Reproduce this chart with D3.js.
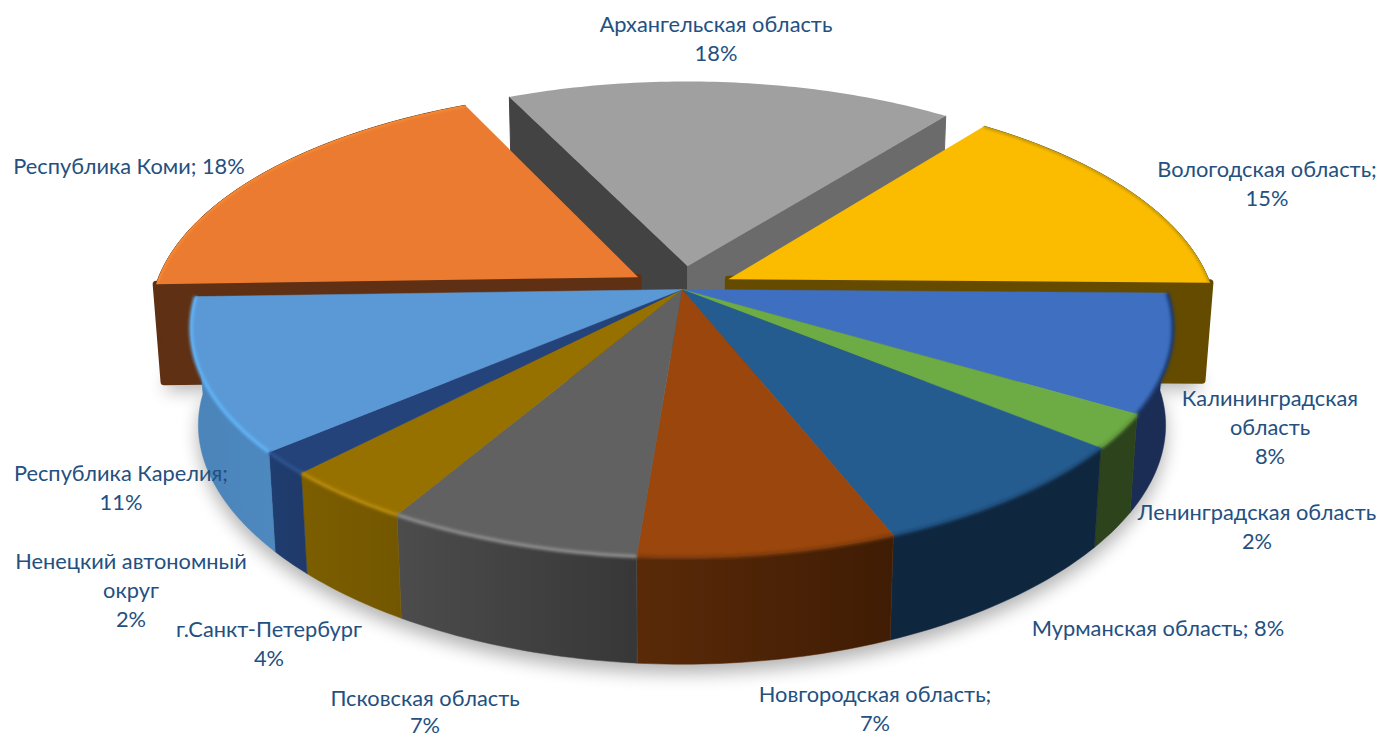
<!DOCTYPE html>
<html><head><meta charset="utf-8">
<script src="https://cdn.jsdelivr.net/npm/d3@7"></script>
<style>html,body{margin:0;padding:0;background:#fff}svg{display:block}</style>
</head><body><svg id="c" width="1381" height="738"></svg>
<script>
const categories=["Архангельская область","Вологодская область","Калининградская область","Ленинградская область","Мурманская область","Новгородская область","Псковская область","г.Санкт-Петербург","Ненецкий автономный округ","Республика Карелия","Республика Коми"];
const values=[17.6,14.7,8.3,2.4,8.05,7.25,7.15,3.75,1.6,10.75,18.45];
const exploded=[1,1,0,0,0,0,0,0,0,0,1];
const labelLines=[["Архангельская область","%"],["Вологодская область;","%"],["Калининградская","область","%"],["Ленинградская область","%"],["Мурманская область; %"],["Новгородская область;","%"],["Псковская область","%"],["г.Санкт-Петербург","%"],["Ненецкий автономный","округ","%"],["Республика Карелия;","%"],["Республика Коми; %"]];
const labelCenterX=[716,1267,1270,1257,1158,875,425,269,131,121,129];
const labelFirstBaseline=[32,177,406,520,636,702,706,637,569,481,174];
const labelLineStep=[29.2,29.2,29.2,29.2,29.2,29.2,27,29.2,29.2,29.2,29.2];
const topColors=["#a0a0a0","#fbbc00","#3f6fc0","#6dab45","#255c90","#9a460c","#616161","#977100","#24437a","#5a99d6","#ea7b30"];
const rimColors=["#a8a8a8","#b8900a","#1f3a70","#5c9439","#1c4a75","#7c3a0a","#8d8d8d","#b88a0c","#2d528f","#62b4f8","#fd8f35"];
const sideStart=["#434343","#654b00","#1b2d54","#2c431c","#0f263f","#5a2a08","#4c4c4c","#7c5e00","#1f3d70","#4a84b9","#5f3013"];
const sideEnd=["#6b6b6b","#654b00","#1b2d54","#2c431c","#0f263f","#3f1c04","#373737","#735700","#1f3a69","#4d88bf","#5f3013"];

const W=1381,H=738,cx=682,cy=289.5,cyB=387,R=484,Rc=223,RcB=219,shrink=.985,a=.168,aB=.21,explode=.107;
const svg=d3.select("#c"),defs=svg.append("defs");
defs.append("filter").attr("id","sh").attr("x","-20%").attr("y","-20%").attr("width","140%").attr("height","140%").append("feGaussianBlur").attr("stdDeviation",9);
defs.append("filter").attr("id","rim").attr("x","-10%").attr("y","-10%").attr("width","120%").attr("height","120%").append("feGaussianBlur").attr("stdDeviation",1.6);

const startDeg=-25.4;
const pie=d3.pie().sort(null).startAngle(startDeg*Math.PI/180).endAngle(startDeg*Math.PI/180+2*Math.PI);
const arcs=pie(values).map((d,i)=>{
  const mid=(d.startAngle+d.endAngle)/2, e=exploded[i]?explode:0;
  return {...d,i,ox:e*Math.sin(mid),oz:-e*Math.cos(mid)};
});
function proj(s,th,r,bottom){
  const X=r*Math.sin(th)+s.ox, Z=-r*Math.cos(th)+s.oz, p=1/(1-a*Z);
  return bottom?[cx+R*shrink*X*p,cyB+RcB*Z/(1-aB*Z)]:[cx+R*X*p,cy+Rc*Z*p];
}
const line=d3.line();
const angles=s=>{const n=Math.max(4,Math.ceil((s.endAngle-s.startAngle)*60));return d3.range(n+1).map(k=>s.startAngle+(s.endAngle-s.startAngle)*k/n);};
const topPath=s=>line([proj(s,0,0,false),...angles(s).map(t=>proj(s,t,1,false))])+"Z";
const bottomPath=s=>line([proj(s,0,0,true),...angles(s).map(t=>proj(s,t,1,true))])+"Z";
const wallPath=s=>line([...angles(s).map(t=>proj(s,t,1,false)),...angles(s).reverse().map(t=>proj(s,t,1,true))])+"Z";
const radialPath=(s,t)=>line([proj(s,0,0,false),proj(s,t,1,false),proj(s,t,1,true),proj(s,0,0,true)])+"Z";
const arcPath=s=>line(angles(s).map(t=>proj(s,t,1,false)));

arcs.forEach(s=>{
  const g=defs.append("linearGradient").attr("id","side"+s.i).attr("x1",0).attr("x2",1).attr("y1",0).attr("y2",0);
  g.append("stop").attr("offset",0).attr("stop-color",sideStart[s.i]);
  g.append("stop").attr("offset",1).attr("stop-color",sideEnd[s.i]);
  defs.append("clipPath").attr("id","clipTop"+s.i).append("path").attr("d",topPath(s));
});

const shadow=svg.append("g").attr("filter","url(#sh)").attr("opacity",.3).attr("transform","translate(0,9)");
shadow.selectAll("path").data(arcs).join("path").attr("d",s=>bottomPath(s)).attr("fill","#000");

const [ark,vol,komi]=[arcs[0],arcs[1],arcs[10]];
const wall=(s,d,fill)=>svg.append("path").attr("d",d).attr("fill",fill).attr("stroke",fill).attr("stroke-width",1).attr("stroke-linejoin","round");
const backRim=s=>svg.append("g").attr("clip-path",`url(#clipTop${s.i})`).append("path").attr("d",arcPath(s)).attr("fill","none").attr("stroke",rimColors[s.i]).attr("stroke-width",3).attr("filter","url(#rim)");

// Архангельская
wall(ark,radialPath(ark,ark.startAngle),sideStart[0]);
wall(ark,radialPath(ark,ark.endAngle),sideEnd[0]);
svg.append("path").attr("d",topPath(ark)).attr("fill",topColors[0]);
// Коми
wall(komi,radialPath(komi,komi.startAngle),sideStart[10]).attr("stroke-width",7);
wall(komi,wallPath(komi),sideStart[10]);
svg.append("path").attr("d",topPath(komi)).attr("fill",topColors[10]);
backRim(komi);
// Вологодская
wall(vol,radialPath(vol,vol.endAngle),sideStart[1]).attr("stroke-width",7);
wall(vol,wallPath(vol),sideStart[1]);
svg.append("path").attr("d",topPath(vol)).attr("fill",topColors[1]);
backRim(vol);

// основной блок
const main=arcs.filter(s=>!exploded[s.i]);
svg.append("g").selectAll("path").data(main).join("path")
  .attr("d",wallPath).attr("fill",s=>`url(#side${s.i})`).attr("stroke",s=>sideStart[s.i]).attr("stroke-width",.5);
svg.append("g").selectAll("path").data(main).join("path")
  .attr("d",topPath).attr("fill",s=>topColors[s.i]).attr("stroke",s=>topColors[s.i]).attr("stroke-width",.5);
svg.append("g").selectAll("path").data(main).join("path")
  .attr("d",arcPath).attr("fill","none").attr("stroke",s=>rimColors[s.i]).attr("stroke-width",3.5).attr("filter","url(#rim)");

// подписи
const pct=d3.format(".0f");
const labels=svg.append("g").attr("font-family","Lato, 'Open Sans', sans-serif").attr("font-size",21.8).attr("fill","#24507f").attr("text-anchor","middle");
labelLines.forEach((lines,i)=>{
  lines.forEach((t,k)=>{
    labels.append("text").attr("x",labelCenterX[i]).attr("y",labelFirstBaseline[i]+k*labelLineStep[i])
      .text(t.replace("%",pct(values[i])+"%"));
  });
});
</script></body></html>
